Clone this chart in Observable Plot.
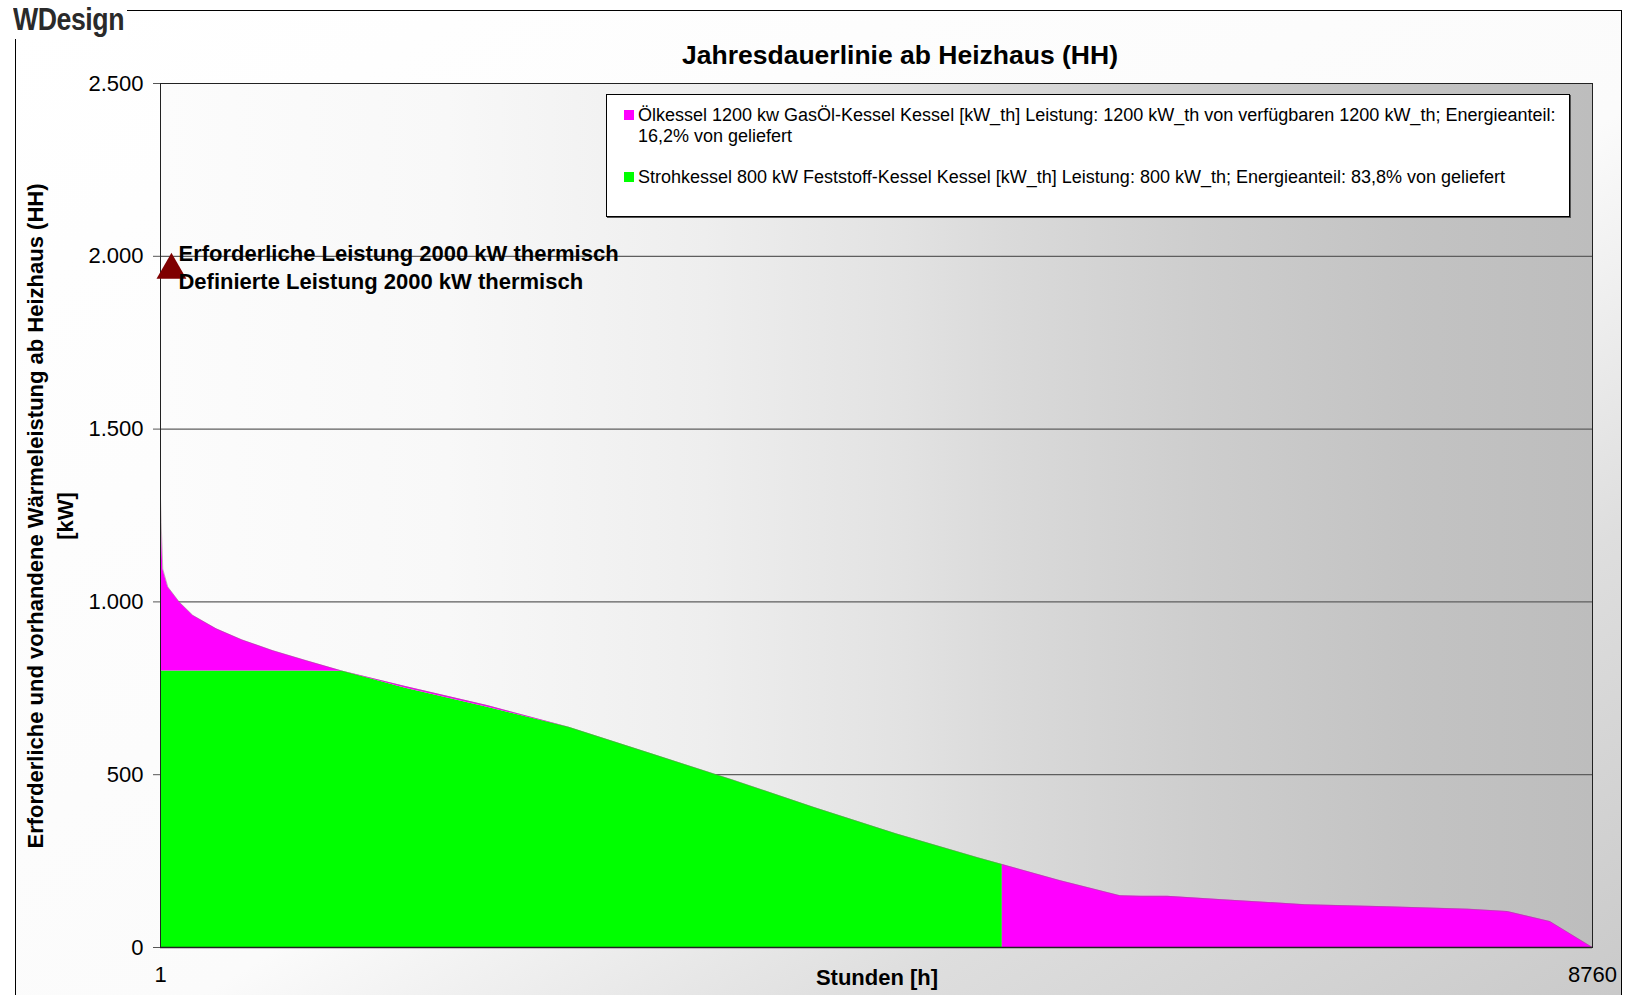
<!DOCTYPE html>
<html>
<head>
<meta charset="utf-8">
<script src="https://cdn.jsdelivr.net/npm/d3@7"></script>
<script src="https://cdn.jsdelivr.net/npm/@observablehq/plot@0.6"></script>
<style>
  body { margin: 0; background: #fff; font-family: "Liberation Sans", Arial, sans-serif; }
  #wrap { position: relative; width: 1627px; height: 995px; overflow: hidden; background: #fff; }
  #frame { position: absolute; left: 15px; top: 10px; width: 1605px; height: 1000px;
           border: 1px solid #000; border-bottom: none;
           background: linear-gradient(to bottom right, #ffffff 0%, #fbfbfb 55%, #dedede 76%, #c9c9c9 100%); }
  #chart { position: absolute; left: 0; top: 0; }
  #logobox { position: absolute; left: 0; top: 0; width: 127px; height: 39px; background: #fff; }
  #logo { position: absolute; left: 13px; top: 0; height: 40px;
          font: bold 31px "Liberation Sans", Arial, sans-serif; color: #2a2a2a; letter-spacing: -0.5px;
          line-height: 40px; white-space: nowrap; transform: scaleX(0.86); transform-origin: 0 50%; }
  #title { position: absolute; left: 400px; top: 39px; width: 1000px; text-align: center;
           font: bold 26.5px "Liberation Sans", Arial, sans-serif; line-height: 32px; color: #000; }
  #ytitle { position: absolute; left: -449px; top: 486px; width: 1000px; height: 60px; text-align: center;
            font: bold 22px "Liberation Sans", Arial, sans-serif; line-height: 30px; color: #000;
            transform: rotate(-90deg); transform-origin: 50% 50%; white-space: nowrap; }
  #xtitle { position: absolute; left: 677px; top: 966px; width: 400px; text-align: center;
            font: bold 22px "Liberation Sans", Arial, sans-serif; line-height: 24px; color: #000; }
  #legend { position: absolute; left: 606px; top: 94px; width: 964px; height: 123px; background: #fff;
            border: 1px solid #000; box-shadow: 1px 1px 0 #555; box-sizing: border-box;
            font: 18px "Liberation Sans", Arial, sans-serif; color: #000; }
  .li { position: absolute; left: 31px; line-height: 21px; white-space: nowrap; }
  .sw { position: absolute; left: 17px; width: 10px; height: 10px; }
</style>
</head>
<body>
<div id="wrap">
  <div id="frame"></div>
  <div id="chart"></div>
  <div id="logobox"><div id="logo">WDesign</div></div>
  <div id="title"></div>
  <div id="ytitle"></div>
  <div id="xtitle"></div>
  <div id="legend"></div>
</div>
<script>
// ---------- data ----------
const titel = "Jahresdauerlinie ab Heizhaus (HH)";
const yTitel = ["Erforderliche und vorhandene Wärmeleistung ab Heizhaus (HH)", "[kW]"];
const xTitel = "Stunden [h]";

// Hours of the year (sorted load duration curve); 5150 appears twice: green ends there
const stunden      = [1,    5,    15,   46,   117, 199, 342, 500, 688, 893, 1117, 1500, 2000, 2500, 3000, 3500, 4000, 4500, 5000, 5150, 5150, 5500, 5870, 6000, 6160, 6500, 7000, 7500, 8000, 8240, 8500, 8760];
// Total heat demand [kW]
const waermebedarf = [1300, 1230, 1095, 1043, 999, 961, 922, 890, 859, 830, 799,  755,  700,  637,  561,  485,  405,  329,  260,  240,  240,  194,  150,  148,  148,  138,  124,  118,  111,  104,  75,   0];
// Strohkessel 800 kW share [kW]
const strohkessel  = [800,  800,  800,  800,  800, 800, 800, 800, 800, 800, 799,  750,  695,  637,  561,  485,  405,  329,  260,  240,  0,    0,    0,    0,    0,    0,    0,    0,    0,    0,    0,    0];

const yTicks = [0, 500, 1000, 1500, 2000, 2500];
const yGrid  = [500, 1000, 1500, 2000];
const xTicks = [1, 8760];

const marker = [{stunde: 68, leistung: 1960}];
const annotation = ["Erforderliche Leistung 2000 kW thermisch", "Definierte Leistung 2000 kW thermisch"];

const legendNames = [
  ["Ölkessel 1200 kw GasÖl-Kessel Kessel [kW_th] Leistung: 1200 kW_th von verfügbaren 1200 kW_th; Energieanteil:", "16,2% von geliefert"],
  ["Strohkessel 800 kW Feststoff-Kessel Kessel [kW_th] Leistung: 800 kW_th; Energieanteil: 83,8% von geliefert"]
];
const legendColors = ["#ff00ff", "#00ff00"];

// ---------- build ----------
const rows = stunden.map((h, i) => ({h, total: waermebedarf[i], stroh: strohkessel[i]}));
const de = d3.formatLocale({decimal: ",", thousands: ".", grouping: [3], currency: ["", " €"]});
const fmt = de.format(",");

const chart = Plot.plot({
  width: 1627, height: 995,
  marginLeft: 160, marginRight: 35, marginTop: 83, marginBottom: 48,
  style: {background: "transparent", fontFamily: "Liberation Sans, Arial, sans-serif", color: "#000", overflow: "visible"},
  x: {domain: [1, 8760]},
  y: {domain: [0, 2500]},
  marks: [
    Plot.frame({fill: "url(#pg)", stroke: "none"}),
    Plot.gridY(yGrid, {stroke: "#5e5e5e", strokeOpacity: 1, strokeWidth: 1.3}),
    Plot.areaY(rows, {x: "h", y1: () => 0, y2: "stroh", fill: legendColors[1]}),
    Plot.areaY(rows, {x: "h", y1: "stroh", y2: "total", fill: legendColors[0]}),
    Plot.lineY(rows, {x: "h", y: "total", stroke: "#8a6a78", strokeWidth: 0.8, strokeOpacity: 0.6}),
    Plot.frame({stroke: "#222", strokeWidth: 1}),
    Plot.ruleY([0], {stroke: "#222", strokeWidth: 1.6}),
    Plot.axisY(yTicks, {tickSize: 7, tickPadding: 10, tickFormat: fmt, fontSize: 22, label: null, stroke: "#555"}),
    Plot.axisX(xTicks, {tickSize: 0, tickPadding: 19, fontSize: 22, label: null, tickFormat: d => String(d)}),
    Plot.dot(marker, {x: "stunde", y: "leistung", symbol: "triangle", r: 11.1, fill: "#7f0000", stroke: "none"}),
    Plot.text(marker, {x: "stunde", y: "leistung", text: () => annotation.join("\n"), textAnchor: "start",
                       lineAnchor: "middle", lineHeight: 1.27, dx: 7, dy: -4, fontSize: 22, fontWeight: "bold", fill: "#000"})
  ]
});

// gradient for the plot area
const ns = "http://www.w3.org/2000/svg";
const defs = document.createElementNS(ns, "defs");
const lg = document.createElementNS(ns, "linearGradient");
lg.setAttribute("id", "pg");
lg.setAttribute("x1", "0"); lg.setAttribute("x2", "1"); lg.setAttribute("y1", "0"); lg.setAttribute("y2", "0");
[[0, "#fcfcfc"], [0.2, "#f8f8f8"], [0.38, "#eeeeee"], [0.52, "#e2e2e2"], [0.59, "#dadada"], [0.73, "#cdcdcd"], [0.87, "#c3c3c3"], [1, "#bdbdbd"]]
  .forEach(([o, c]) => { const s = document.createElementNS(ns, "stop"); s.setAttribute("offset", o); s.setAttribute("stop-color", c); lg.appendChild(s); });
defs.appendChild(lg);
chart.insertBefore(defs, chart.firstChild);
document.getElementById("chart").appendChild(chart);

// texts
document.getElementById("title").textContent = titel;
document.getElementById("ytitle").innerHTML = yTitel.join("<br>");
document.getElementById("xtitle").textContent = xTitel;

const legend = document.getElementById("legend");
const itemTops = [10, 72];
legendNames.forEach((lines, i) => {
  const sw = document.createElement("div");
  sw.className = "sw"; sw.style.background = legendColors[i]; sw.style.top = (itemTops[i] + 5) + "px";
  legend.appendChild(sw);
  lines.forEach((t, j) => {
    const d = document.createElement("div");
    d.className = "li"; d.textContent = t; d.style.top = (itemTops[i] + j * 21) + "px";
    legend.appendChild(d);
  });
});
</script>
</body>
</html>
